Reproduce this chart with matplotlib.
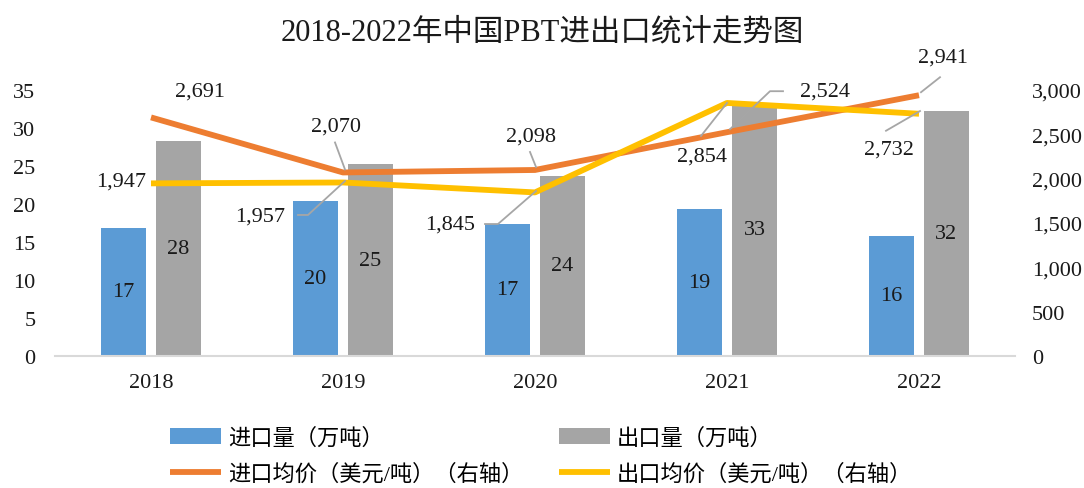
import matplotlib
matplotlib.use("Agg")
import matplotlib.pyplot as plt
from matplotlib.lines import Line2D
from matplotlib.transforms import IdentityTransform
import numpy as np

plt.rcParams['font.family'] = ['Liberation Serif', 'Noto Sans CJK SC', 'DejaVu Sans']

years = ['2018', '2019', '2020', '2021', '2022']
import_vol = [16.9, 20.4, 17.4, 19.4, 15.8]      # 万吨
export_vol = [28.3, 25.2, 23.7, 33.2, 32.2]      # 万吨
import_price = [2691, 2070, 2098, 2524, 2941]    # 美元/吨
export_price = [1947, 1957, 1845, 2854, 2732]    # 美元/吨

title = '2018-2022年中国PBT进出口统计走势图'
legend_labels = ['进口量（万吨）', '出口量（万吨）', '进口均价（美元/吨）（右轴）', '出口均价（美元/吨）（右轴）']

C_BLUE = '#5B9BD5'
C_GRAY = '#A5A5A5'
C_ORANGE = '#ED7D31'
C_YELLOW = '#FFC000'
FS = 16

DPI = 100
fig = plt.figure(figsize=(10.84, 4.89), dpi=DPI)
ax = fig.add_axes([55/1084, 1 - 357/489, 960/1084, 266/489])
ax2 = ax.twinx()

x = np.arange(len(years))
bw = 0.23
off = 0.143
b1 = ax.bar(x - off, import_vol, bw, color=C_BLUE, zorder=2)
b2 = ax.bar(x + off, export_vol, bw, color=C_GRAY, zorder=2)
for bars, vals in ((b1, import_vol), (b2, export_vol)):
    for r, v in zip(bars, vals):
        ax.text(r.get_x() + r.get_width()/2, v/2, f'{round(v):d}', ha='center', va='center',
                fontsize=FS, color='#1a1a1a', zorder=3)

ax.set_xlim(-0.5, len(years) - 0.5)
ax.set_ylim(0, 35)
ax.set_yticks(range(0, 36, 5))
ax.set_xticks(x)
ax.set_xticklabels(years)
ax2.set_ylim(0, 3000)
ax2.set_yticks(range(0, 3001, 500))
ax2.set_yticklabels([f'{v:,}' for v in range(0, 3001, 500)])

for a in (ax, ax2):
    for s in ('top', 'left', 'right', 'bottom'):
        a.spines[s].set_visible(False)
    a.tick_params(length=0, labelsize=FS, colors='#1a1a1a')
ax.spines['bottom'].set_visible(True)
ax.spines['bottom'].set_color('#D9D9D9')
ax.spines['bottom'].set_linewidth(1.5)
ax.tick_params(axis='y', pad=14)
ax.tick_params(axis='x', pad=12)
ax2.tick_params(axis='y', pad=12)

l1, = ax2.plot(x, import_price, color=C_ORANGE, lw=4.2, solid_capstyle='butt', zorder=3)
l2, = ax2.plot(x, export_price, color=C_YELLOW, lw=4.2, solid_capstyle='butt', zorder=3)

# label placement (pixel offsets from point, y up) and leader polylines
orange_lab = [((49, 26), None),
              ((-7, 46), [(-8, 30), (2, 3)]),
              ((-4, 34), [(-5, 18), (1, 3)]),
              ((98, 41), [(56, 41), (43, 41), (3, 3)]),
              ((24, 38), [(21, 18), (2, 3)])]
yellow_lab = [((-30, 2), None),
              ((-83, -34), [(-45, -32.5), (-35, -32.5), (2, 1.5)]),
              ((-85, -32), [(-50, -31.6), (-37, -31.6), (1, 1.4)]),
              ((-25, -53), [(-26, -33), (0, 0)]),
              ((-30, -35), [(-33, -17), (1, 2.7)])]

for vals, labs in ((import_price, orange_lab), (export_price, yellow_lab)):
    for xi, v, ((dx, dy), leader) in zip(x, vals, labs):
        ax2.annotate(f'{v:,}', xy=(xi, v), xytext=(dx, dy), textcoords='offset pixels',
                     ha='center', va='center', fontsize=FS, color='#1a1a1a', zorder=5)
        if leader:
            px, py = ax2.transData.transform((xi, v))
            xs = [px + a for a, b in leader]
            ys = [py + b for a, b in leader]
            fig.add_artist(Line2D(xs, ys, transform=IdentityTransform(), color='#A6A6A6', lw=1.3, zorder=4))

fig.text(0.5, 1 - 33/489, title, ha='center', va='center', fontsize=22, color='#1a1a1a')

handles = [b1, l1, b2, l2]
labels = [legend_labels[0], legend_labels[2], legend_labels[1], legend_labels[3]]
leg = fig.legend(handles, labels, ncol=2, loc='center left', bbox_to_anchor=(150/1084, 1 - 457/489),
                 frameon=False, fontsize=16, handlelength=2.3, handletextpad=0.3, columnspacing=1.6,
                 labelspacing=0.65)

fig.savefig('out.png', dpi=DPI)
